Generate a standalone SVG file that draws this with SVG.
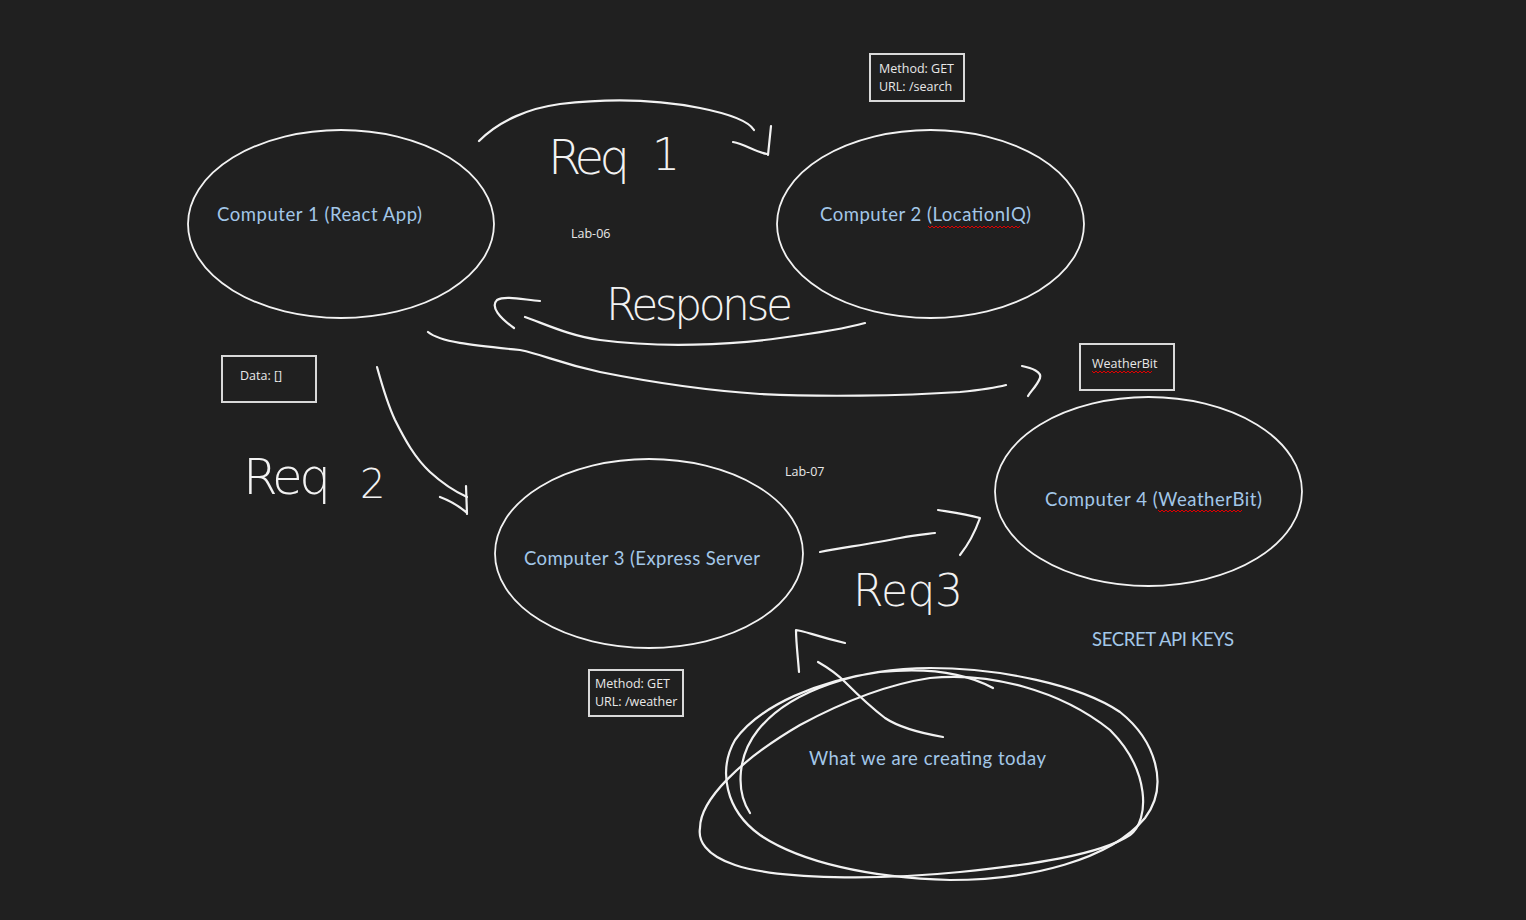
<svg xmlns="http://www.w3.org/2000/svg" width="1526" height="920" viewBox="0 0 1526 920">
<style>
.ink{fill:none;stroke:#f2f2f2;stroke-width:2.2;stroke-linecap:round;stroke-linejoin:round}
.node{fill:none;stroke:#f2f2f2;stroke-width:1.8}
.lbl{font-family:Lato,"Open Sans",sans-serif;font-size:18.5px;fill:#a3c7e8}
.box{fill:none;stroke:#d9d9d9;stroke-width:2}
.small{font-family:"Open Sans","Liberation Sans",sans-serif;font-size:12.5px;fill:#e8e8e8}
.hand{font-family:"DejaVu Sans",sans-serif;fill:#f2f2f2;font-weight:200}
.squig{fill:none;stroke:#e00000;stroke-width:1}
</style>
<rect width="1526" height="920" fill="#202020"/>

<g id="computer1">
<ellipse class="node" cx="341" cy="224" rx="153" ry="94"/>
<text class="lbl" x="217" y="221" textLength="205">Computer 1 (React App)</text>
</g>
<g id="computer2">
<ellipse class="node" cx="930.5" cy="224" rx="153.5" ry="94"/>
<text class="lbl" x="820" y="221" textLength="211">Computer 2 (LocationIQ)</text>
<path class="squig" d="M928 226 l2 2 2 -2 2 2 2 -2 2 2 2 -2 2 2 2 -2 2 2 2 -2 2 2 2 -2 2 2 2 -2 2 2 2 -2 2 2 2 -2 2 2 2 -2 2 2 2 -2 2 2 2 -2 2 2 2 -2 2 2 2 -2 2 2 2 -2 2 2 2 -2 2 2 2 -2 2 2 2 -2 2 2 2 -2 2 2 2 -2 2 2 2 -2 2 2 2 -2 2 2 2 -2"/>
</g>
<g id="computer3">
<ellipse class="node" cx="649" cy="553.5" rx="154" ry="94.5"/>
<text class="lbl" x="524" y="565" textLength="236">Computer 3 (Express Server</text>
</g>
<g id="computer4">
<ellipse class="node" cx="1148.5" cy="491.5" rx="153.5" ry="94.5"/>
<text class="lbl" x="1045" y="506" textLength="217">Computer 4 (WeatherBit)</text>
<path class="squig" d="M1158 510 l2 2 2 -2 2 2 2 -2 2 2 2 -2 2 2 2 -2 2 2 2 -2 2 2 2 -2 2 2 2 -2 2 2 2 -2 2 2 2 -2 2 2 2 -2 2 2 2 -2 2 2 2 -2 2 2 2 -2 2 2 2 -2 2 2 2 -2 2 2 2 -2 2 2 2 -2 2 2 2 -2 2 2 2 -2 2 2 2 -2 2 2 2 -2"/>
</g>

<g id="box-search">
<rect class="box" x="870" y="54" width="94" height="47"/>
<text class="small" x="879" y="73">Method: GET</text>
<text class="small" x="879" y="91">URL: /search</text>
</g>
<g id="box-data">
<rect class="box" x="222" y="356" width="94" height="46"/>
<text class="small" x="240" y="380">Data: []</text>
</g>
<g id="box-weatherbit">
<rect class="box" x="1080" y="344" width="94" height="46"/>
<text class="small" x="1092" y="368">WeatherBit</text>
<path class="squig" d="M1092 371 l2 2 2 -2 2 2 2 -2 2 2 2 -2 2 2 2 -2 2 2 2 -2 2 2 2 -2 2 2 2 -2 2 2 2 -2 2 2 2 -2 2 2 2 -2 2 2 2 -2 2 2 2 -2 2 2 2 -2 2 2 2 -2 2 2 2 -2"/>
</g>
<g id="box-weather">
<rect class="box" x="589" y="670" width="94" height="46"/>
<text class="small" x="595" y="688">Method: GET</text>
<text class="small" x="595" y="706">URL: /weather</text>
</g>

<g id="labels">
<text class="small" x="571" y="238">Lab-06</text>
<text class="small" x="785" y="476">Lab-07</text>
<text class="lbl" x="1092" y="646" textLength="142">SECRET API KEYS</text>
<text class="lbl" x="809" y="765" textLength="237">What we are creating today</text>
<text class="hand" x="548" y="174" font-size="48" textLength="82">Req</text>
<text class="hand" x="652" y="170" font-size="44">1</text>
<text class="hand" x="606" y="320" font-size="44" textLength="187">Response</text>
<text class="hand" x="243" y="494" font-size="50" textLength="88">Req</text>
<text class="hand" x="360" y="498" font-size="40">2</text>
<text class="hand" x="853" y="606" font-size="44" textLength="110">Req3</text>
</g>

<g id="connectors">
<path class="ink" d="M479 141 C500 120 530 108 560 104 C610 98 660 100 700 108 C725 113 748 120 754 130"/>
<path class="ink" d="M733 142 C745 144 755 152 767 154 M771 126 L768 155"/>
<path class="ink" d="M865 323 C840 330 810 334 780 338 C730 345 660 348 600 340 C570 336 545 324 525 317"/>
<path class="ink" d="M540 301 C525 300 505 295 497 300 C490 307 500 318 514 328"/>
<path class="ink" d="M428 332 C440 342 470 345 520 350 C545 355 555 362 600 372 C650 382 700 390 760 394 C820 397 900 396 960 392 C980 390 995 388 1006 385"/>
<path class="ink" d="M1022 366 C1032 368 1042 372 1040 378 C1037 386 1030 392 1028 396"/>
<path class="ink" d="M377 367 C382 385 387 403 395 420 C405 440 415 458 430 472 C442 483 456 492 467 497"/>
<path class="ink" d="M440 497 C448 500 458 505 467 513 M466 486 L467 514"/>
<path class="ink" d="M820 552 C840 548 870 544 900 538 C915 535 928 534 935 533"/>
<path class="ink" d="M938 510 C950 512 965 514 980 518 C975 532 968 545 960 555"/>
<path class="ink" d="M943 737 C920 733 900 728 885 718 C868 705 855 692 845 682 C835 672 825 666 818 662"/>
<path class="ink" d="M799 672 C798 658 796 642 796 630 C805 631 815 636 845 643"/>
<path class="ink" d="M993 688 C960 670 920 668 880 672 C820 680 760 705 735 740 C718 770 725 810 760 835 C800 862 870 878 950 880 C1030 880 1110 860 1145 818 C1170 785 1155 740 1120 712 C1080 685 1000 668 930 668 C860 668 790 690 758 730 C738 755 735 790 750 813"/>
<path class="ink" d="M700 828 C700 800 740 760 800 725 C850 698 890 684 930 678 C990 672 1060 690 1110 730 C1150 770 1150 820 1130 835 C1100 855 1030 865 960 872 C880 880 780 880 735 865 C705 855 698 840 700 828"/>
</g>
</svg>
